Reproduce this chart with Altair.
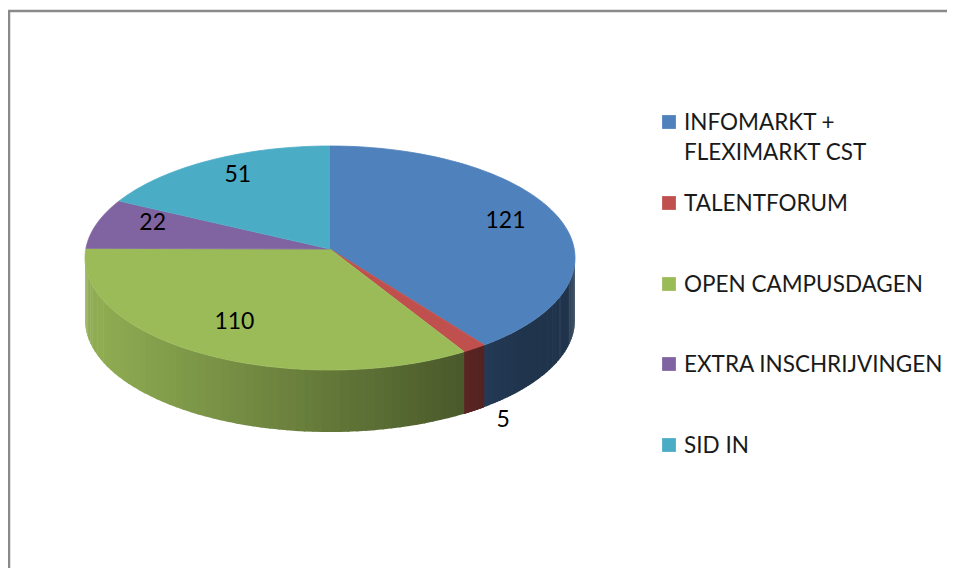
import altair as alt
import pandas as pd

# ---- data ----
categories = [
    "INFOMARKT + FLEXIMARKT CST",
    "TALENTFORUM",
    "OPEN CAMPUSDAGEN",
    "EXTRA INSCHRIJVINGEN",
    "SID IN",
]
counts = [121, 5, 110, 22, 51]
colors = ["#4F81BD", "#C0504D", "#9BBB59", "#8064A2", "#4BACC6"]

df = pd.DataFrame({
    "cat": categories,
    "count": counts,
    "col": colors,
    "idx": list(range(len(categories))),
})

W, H = 939, 560
DEPTH = 0.554      # side thickness in ellipse-radius units
CENTER_Y = -0.08   # slight perspective lift of the pie centre
N = 72             # samples along each slice rim
M = 60             # shading strips per slice side
EPS = 0.006        # small overlap between strips (radians)

xs = alt.Scale(domain=[-1, 1], range=[77, 567], nice=False, zero=False)
ys = alt.Scale(domain=[-1, 1], range=[138, 362], nice=False, zero=False)
leg_y = alt.Scale(domain=[0, 1, 2, 3, 4], range=[114, 195, 276, 356, 437],
                  nice=False, zero=False)

base = alt.Chart(df).transform_window(
    cum="sum(count)", sort=[alt.SortField("idx")]
).transform_joinaggregate(
    total="sum(count)"
).transform_calculate(
    a0="(datum.cum - datum.count) / datum.total * 2 * PI"
).transform_calculate(
    a1="datum.cum / datum.total * 2 * PI"
)

# ---- visible side wall, drawn as shaded strips ----
side = base.transform_filter(
    "datum.a1 > PI / 2 && datum.a0 < 3 * PI / 2"
).transform_calculate(
    s0="max(datum.a0, PI / 2)"
).transform_calculate(
    s1="min(datum.a1, 3 * PI / 2)"
).transform_calculate(
    j=f"sequence(0, {M})"
).transform_flatten(["j"]).transform_calculate(
    t0=f"datum.s0 + (datum.s1 - datum.s0) * datum.j / {M}"
).transform_calculate(
    t1=f"min(3 * PI / 2, datum.s0 + (datum.s1 - datum.s0) * (datum.j + 1) / {M} + {EPS})"
).transform_calculate(
    f="clamp(0.64 - 0.3 * sin((datum.t0 + datum.t1) / 2), 0.4, 0.92)"
).transform_calculate(
    shade="'rgb(' + round(rgb(datum.col).r * datum.f) + ',' + round(rgb(datum.col).g * datum.f) + ',' + round(rgb(datum.col).b * datum.f) + ')'"
).transform_calculate(
    sid="datum.cat + '_' + datum.j"
).transform_calculate(
    c="sequence(0, 4)"
).transform_flatten(["c"]).transform_calculate(
    tt="(datum.c == 0 || datum.c == 3) ? datum.t0 : datum.t1"
).transform_calculate(
    px="sin(datum.tt)"
).transform_calculate(
    py=f"-cos(datum.tt) + (datum.c >= 2 ? {DEPTH} : 0)"
).mark_line(strokeWidth=0, interpolate="linear").encode(
    x=alt.X("px:Q", scale=xs, axis=None),
    y=alt.Y("py:Q", scale=ys, axis=None),
    order=alt.Order("c:Q"),
    detail="sid:N",
    fill=alt.Fill("shade:N", scale=None),
)

# ---- top face ----
top = base.transform_calculate(
    k=f"sequence(0, {N + 2})"
).transform_flatten(["k"]).transform_calculate(
    t=f"datum.a0 + (datum.a1 - datum.a0) * (datum.k - 1) / {N}"
).transform_calculate(
    px="datum.k == 0 ? 0 : sin(datum.t)"
).transform_calculate(
    py=f"datum.k == 0 ? {CENTER_Y} : -cos(datum.t)"
).mark_line(strokeWidth=0.8, interpolate="linear").encode(
    x=alt.X("px:Q", scale=xs, axis=None),
    y=alt.Y("py:Q", scale=ys, axis=None),
    order=alt.Order("k:Q"),
    detail="cat:N",
    fill=alt.Fill("col:N", scale=None),
    stroke=alt.Stroke("col:N", scale=None),
)

# ---- value labels ----
labels = base.transform_calculate(
    mid="(datum.a0 + datum.a1) / 2"
).transform_calculate(
    frac="datum.count / datum.total"
).transform_calculate(
    r="datum.frac < 0.03 ? 1.2 : 0.76"
).transform_calculate(
    lx="sin(datum.mid) * datum.r"
).transform_calculate(
    ly=f"-cos(datum.mid) * datum.r + (datum.frac < 0.03 ? {DEPTH} : 0) + {CENTER_Y}"
).mark_text(font="Lato", fontSize=23, color="#000000").encode(
    x=alt.X("lx:Q", scale=xs, axis=None),
    y=alt.Y("ly:Q", scale=ys, axis=None),
    text=alt.Text("count:Q"),
)

# ---- legend ----
legend_sq = alt.Chart(df).mark_square(size=190, opacity=1).encode(
    x=alt.value(661),
    y=alt.Y("idx:Q", scale=leg_y, axis=None),
    fill=alt.Fill("col:N", scale=None),
)
legend_tx = alt.Chart(df).transform_calculate(
    lab="replace(datum.cat, '+ ', '+\\n')"
).mark_text(
    align="left", baseline="alphabetic", dy=8, lineBreak="\n", lineHeight=30,
    font="Lato", fontSize=22.5, color="#1a1a1a",
).encode(
    x=alt.value(676),
    y=alt.Y("idx:Q", scale=leg_y, axis=None),
    text="lab:N",
)

# ---- chart frame (top and left edges) ----
one = pd.DataFrame({"a": [0]})
frame_top = alt.Chart(one).mark_rule(color="#8a8a8a", strokeWidth=2.5).encode(
    x=alt.value(0), x2=alt.value(W + 20), y=alt.value(3)
)
frame_left = alt.Chart(one).mark_rule(color="#8a8a8a", strokeWidth=2.5).encode(
    x=alt.value(1), y=alt.value(3), y2=alt.value(H + 20)
)

chart = alt.layer(
    frame_top, frame_left, side, top, labels, legend_sq, legend_tx
).resolve_scale(
    x="independent", y="independent"
).properties(
    width=W, height=H, padding=0,
    autosize=alt.AutoSizeParams(type="none"),
).configure_view(strokeWidth=0)

chart.save("out.html", embed_options={"renderer": "svg", "actions": False})
